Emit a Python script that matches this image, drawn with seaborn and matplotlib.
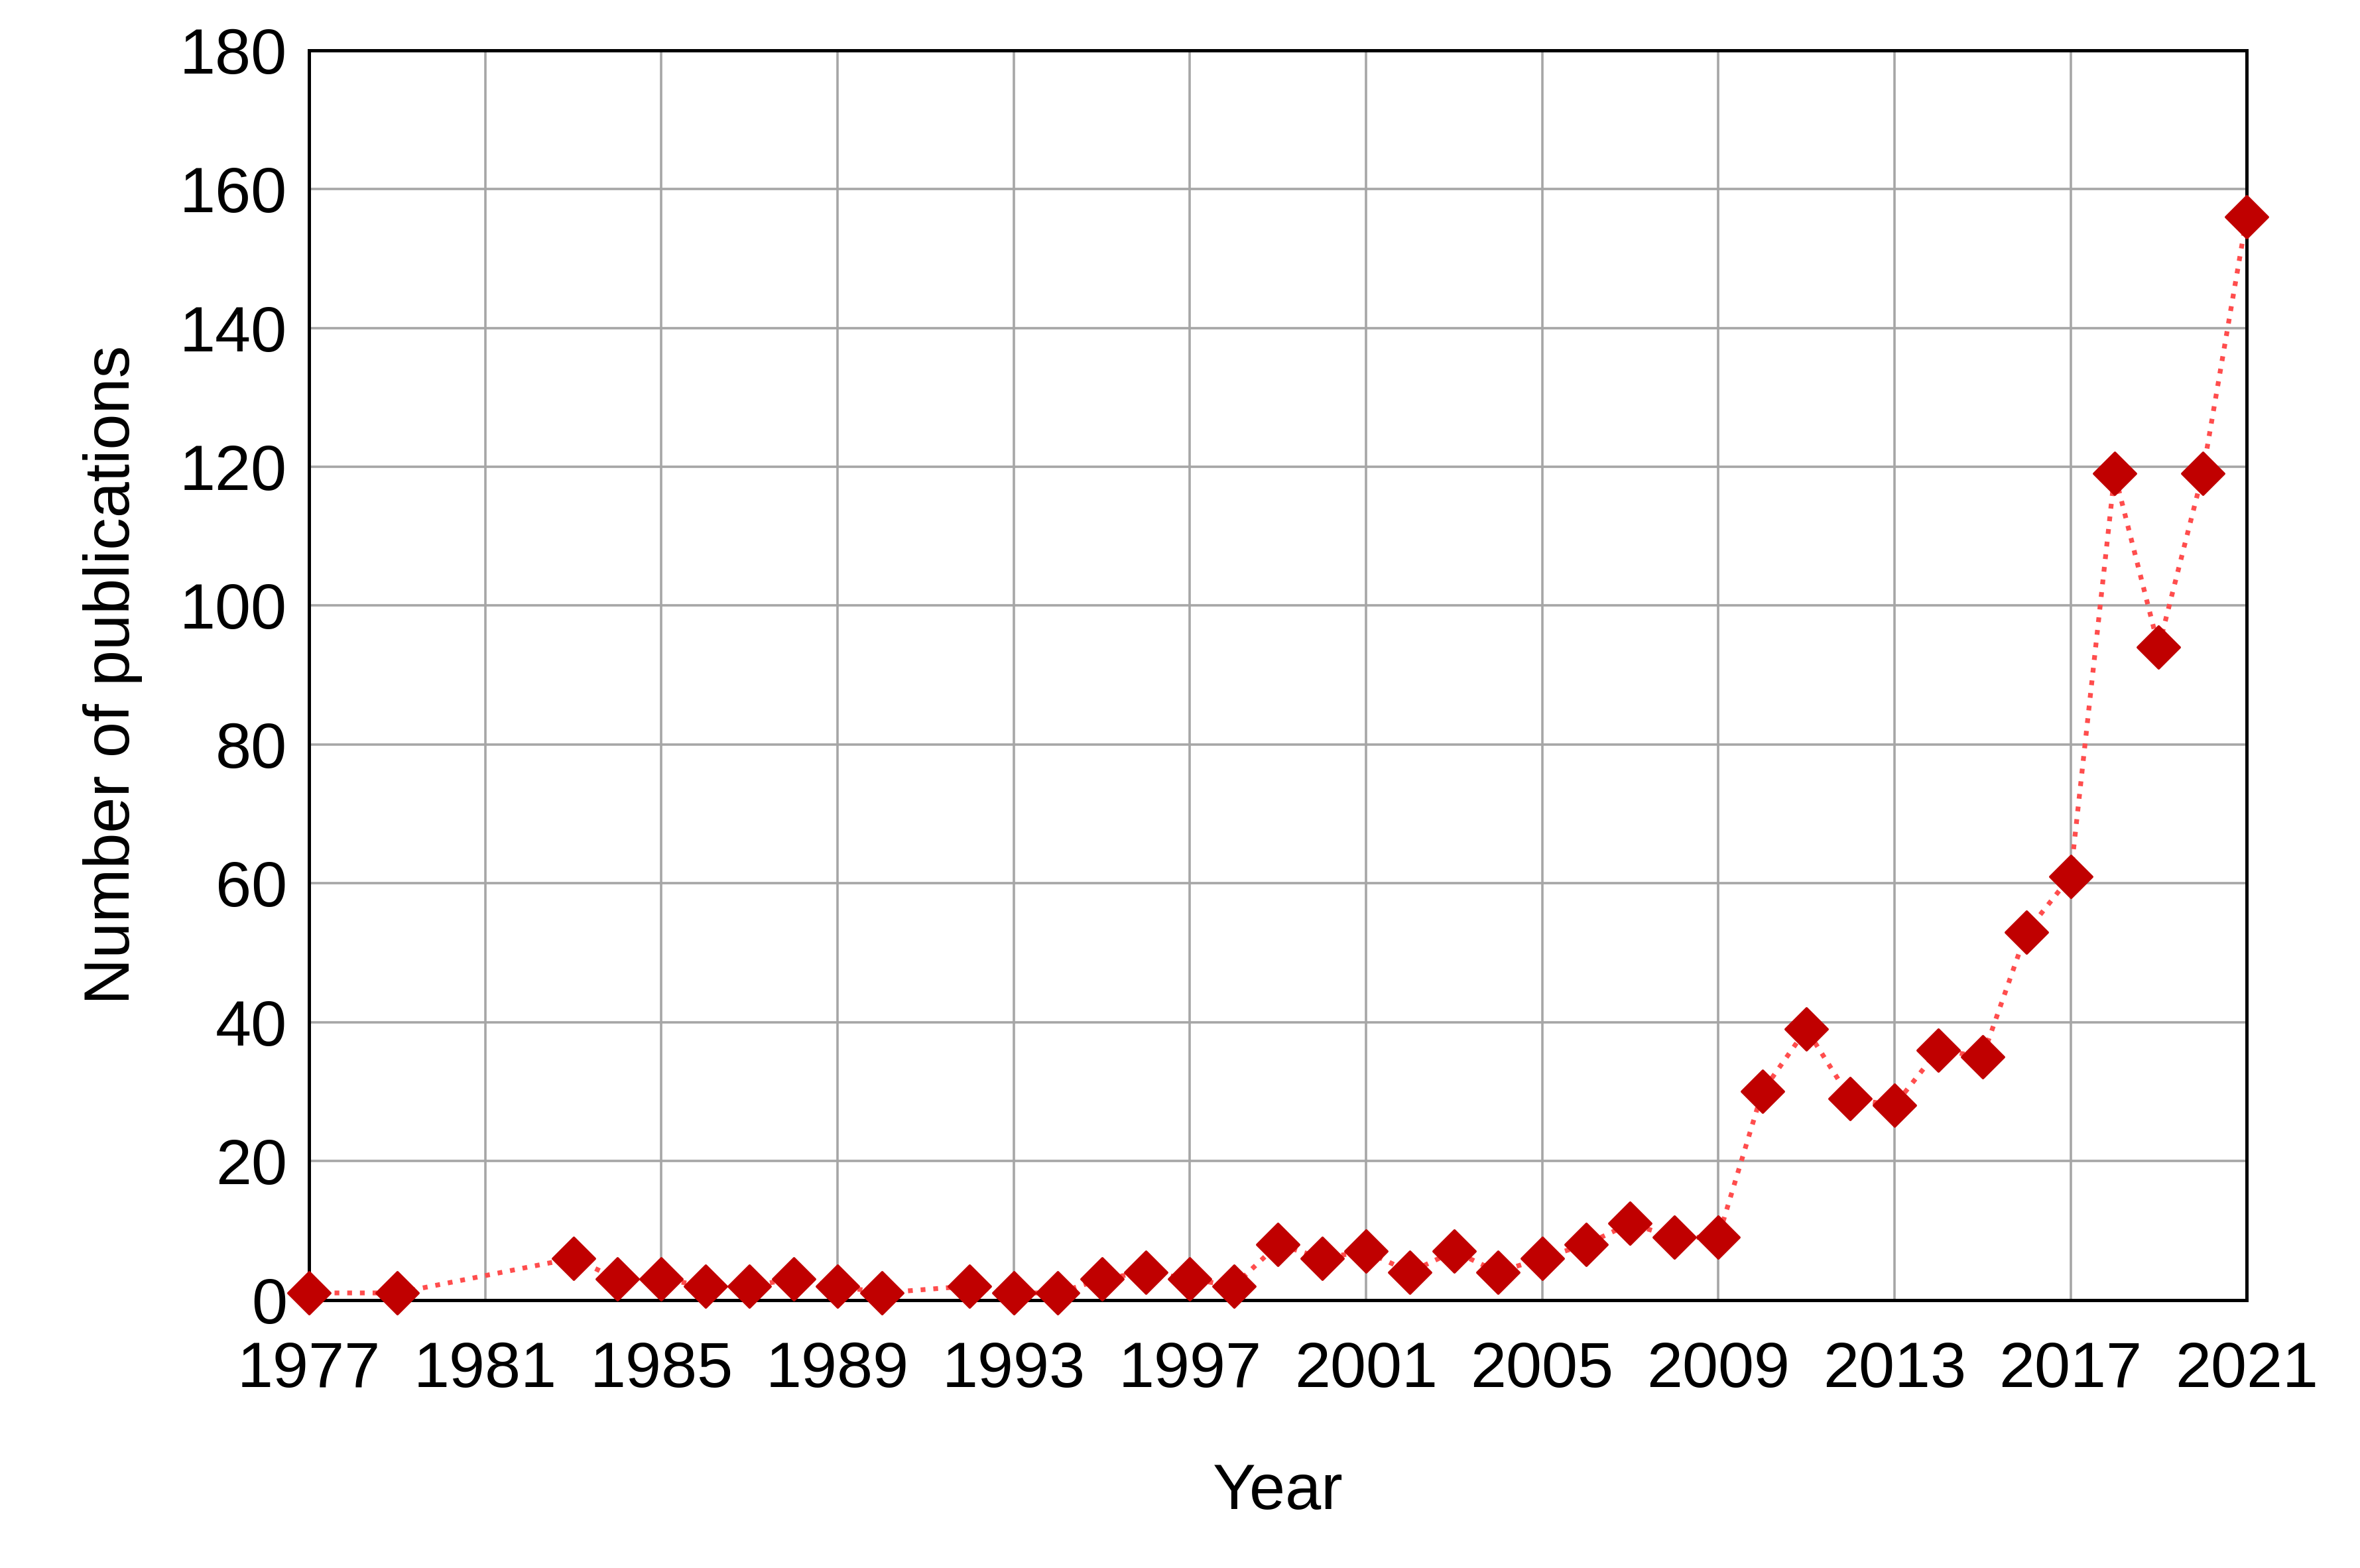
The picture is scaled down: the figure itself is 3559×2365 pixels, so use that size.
import matplotlib
matplotlib.use("Agg")
import matplotlib.pyplot as plt
import seaborn as sns
import pandas as pd

years = [1977,1979,1983,1984,1985,1986,1987,1988,1989,1990,1992,1993,1994,1995,1996,1997,1998,1999,2000,
         2001,2002,2003,2004,2005,2006,2007,2008,2009,2010,2011,2012,2013,2014,2015,2016,2017,2018,2019,2020,2021]
counts = [1,1,6,3,3,2,2,3,2,1,2,1,1,3,4,3,2,8,6,
          7,4,7,4,6,8,11,9,9,30,39,29,28,36,35,53,61,119,94,119,156]
xticks = list(range(1977, 2022, 4))
yticks = list(range(0, 181, 20))

df = pd.DataFrame({"Year": years, "Count": counts})

sns.set_theme(style="white")
plt.rcParams['font.family'] = ['Liberation Sans', 'DejaVu Sans']

fig = plt.figure(figsize=(17.795, 11.825), dpi=200)
ax = fig.add_axes([0.131, 0.171, 0.821, 0.797])
ax.grid(True, color="#a6a6a6", linewidth=1.3, zorder=0)
sns.lineplot(data=df, x="Year", y="Count", ax=ax, color="#ff4d4d", linestyle=":", linewidth=2.6, zorder=2)
sns.scatterplot(data=df, x="Year", y="Count", ax=ax, marker="D", s=260, color="#c00000",
                edgecolor="#c00000", zorder=3, clip_on=False)
ax.set_xlim(1977, 2021)
ax.set_ylim(0, 180)
ax.set_xticks(xticks)
ax.set_yticks(yticks)
ax.tick_params(axis="both", labelsize=35, length=0, labelcolor="black")
ax.tick_params(axis="x", pad=22)
ax.tick_params(axis="y", pad=12)
ax.set_xlabel("Year", fontsize=35, labelpad=34, color="black")
ax.set_ylabel("Number of publications", fontsize=35, labelpad=20, color="black")
for s in ax.spines.values():
    s.set_color("black")
    s.set_linewidth(1.8)
fig.savefig("out.png", dpi=200)
